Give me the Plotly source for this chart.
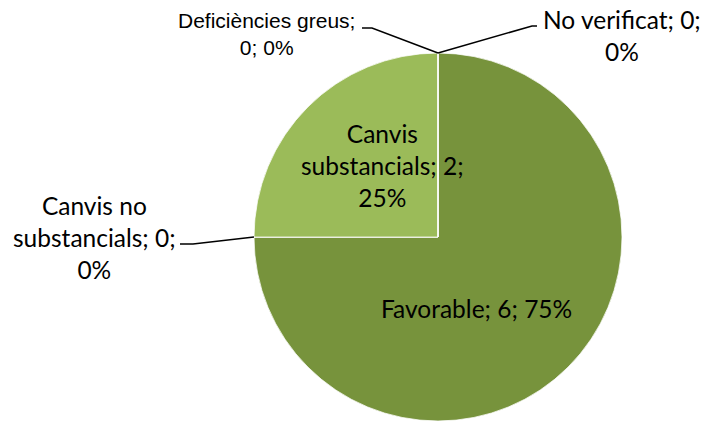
import math
import plotly.graph_objects as go

# Inspection results by category (clockwise from 12 o'clock)
categories = ["Favorable", "Canvis no substancials", "Canvis substancials",
              "Deficiències greus", "No verificat"]
counts = [6, 0, 2, 0, 0]
colors = ["#77933C", "#77933C", "#9BBB59", "#9BBB59", "#9BBB59"]

W, H = 702, 421
CX, CY, R = 438, 237, 184  # pie centre and radius in pixels

total = sum(counts)
pcts = [round(100 * c / total) for c in counts]


def label_text(i, breaks):
    """Label 'name; value; pct%' with line breaks after the given word indices."""
    words = f"{categories[i]}; {counts[i]}; {pcts[i]}%".split(" ")
    out = ""
    for k, w in enumerate(words):
        out += w
        if k < len(words) - 1:
            out += "<br>" if k in breaks else " "
    return out


def px(x, y):
    return x / W, 1 - y / H


fig = go.Figure(go.Pie(
    labels=categories,
    values=counts,
    sort=False,
    direction="clockwise",
    rotation=0,
    marker=dict(colors=colors, line=dict(color="white", width=0.75)),
    textinfo="none",
    hoverinfo="label+value+percent",
    showlegend=False,
    domain=dict(x=[(CX - R) / W, (CX + R) / W], y=[0, 2 * R / H]),
))

calibri_like = dict(family="Lato, Carlito, Calibri, sans-serif", size=24.5, color="black")
arial_like = dict(family="Liberation Sans, Arial, sans-serif", size=21, color="black")

# label placement: (category index, centre px, font, break indices)
label_specs = [
    (0, (476, 308), calibri_like, []),
    (2, (382, 165), calibri_like, [0, 2]),
    (1, (94, 237), calibri_like, [1, 3]),
    (3, (266, 34), arial_like, [1]),
    (4, (622, 35), calibri_like, [2]),
]
annotations = []
for i, (x, y), font, breaks in label_specs:
    ax, ay = px(x, y)
    annotations.append(dict(
        x=ax, y=ay, xref="paper", yref="paper", text=label_text(i, breaks),
        showarrow=False, xanchor="center", yanchor="middle", font=font, align="center",
    ))


# leader lines for the zero-valued slices, ending on the pie rim at each slice's angle
def rim_point(i):
    frac = sum(counts[:i]) / total
    ang = 2 * math.pi * frac
    return CX + R * math.sin(ang), CY - R * math.cos(ang)


leaders = {
    1: [(180, 244), (193, 244)],
    3: [(362, 28), (372, 28)],
    4: [(537, 26), (532, 26)],
}
shapes = []
for i, pts in leaders.items():
    pts = pts + [rim_point(i)]
    path = "M " + " L ".join(f"{px(x, y)[0]:.5f},{px(x, y)[1]:.5f}" for x, y in pts)
    shapes.append(dict(type="path", xref="paper", yref="paper", path=path,
                       line=dict(color="black", width=1.5)))

fig.update_layout(
    width=W, height=H,
    margin=dict(l=0, r=0, t=0, b=0),
    paper_bgcolor="white",
    plot_bgcolor="white",
    annotations=annotations,
    shapes=shapes,
)

fig.write_html("out.html")
